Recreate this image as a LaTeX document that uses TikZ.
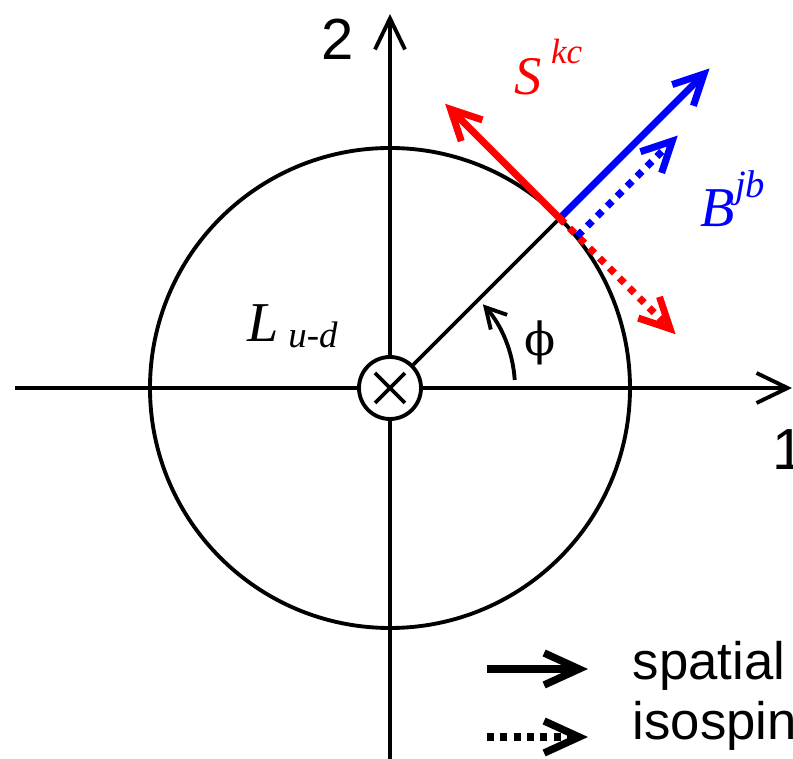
\documentclass[tikz,border=0pt]{standalone}
\usepackage{fontspec}
\setmainfont{Liberation Sans}
\newfontfamily\timesfont{Liberation Serif}
\newfontfamily\greekfont{DejaVu Serif}
\usetikzlibrary{arrows.meta,calc}
\definecolor{vecred}{RGB}{255,0,0}
\definecolor{vecblue}{RGB}{0,0,255}
\newcommand{\fsz}[1]{\fontsize{#1}{#1}\selectfont}

\begin{document}
\begin{tikzpicture}[
    axis/.style={line width=1.1pt, -{Straight Barb[length=3.1mm,width=3mm]}},
    ring/.style={line width=1.1pt},
    spatialvec/.style={line width=2pt, -{Straight Barb[length=3mm,width=3mm]}},
    isovec/.style={spatialvec, dash pattern=on 2pt off 2pt},
    legendvec/.style={line width=2.1pt, -{Straight Barb[length=3.5mm,width=3.2mm]}},
    legendiso/.style={legendvec, dash pattern=on 2pt off 1.8pt},
    axislabel/.style={inner sep=0pt, font=\fsz{16.5}},
    legendlabel/.style={inner sep=0pt, anchor=base west, font=\fsz{15}}
]
    \useasboundingbox (-3.90,-3.71) rectangle (4.03,3.88);

    % Axes
    \coordinate (xstart) at (-3.75,0);
    \coordinate (xend) at (4.02,0);
    \coordinate (ystart) at (0,-3.71);
    \coordinate (yend) at (0,3.74);
    \draw[axis] (xstart) -- (xend);
    \draw[axis] (ystart) -- (yend);
    \node[axislabel, anchor=base west] (one) at (3.82,-0.82) {1};
    \node[axislabel] (two) at (-0.52,3.49) {2};

    % Loop
    \draw[ring] (0,0) circle (2.4);
    \node[draw, circle, ring, fill=white, minimum size=6.2mm, inner sep=0pt] (core) at (0,0) {};
    \draw[ring] ($(core)+(-0.15,-0.15)$) -- ($(core)+(0.15,0.15)$);
    \draw[ring] ($(core)+(-0.15,0.15)$) -- ($(core)+(0.15,-0.15)$);
    \node[inner sep=0pt, anchor=base west] (lud) at (-1.43,0.46)
        {\timesfont\itshape\fsz{16}L\,\raisebox{-1.7pt}{\fsz{10.5}u-d}};

    % Radius and angle
    \coordinate (P) at (45:2.4);
    \draw[ring] (core) -- (P);
    \draw[ring, -{Straight Barb[length=2mm,width=2.2mm]}] (3.7:1.25) arc (3.7:42:1.25);
    \node[inner sep=0pt] (phi) at (1.50,0.45) {\greekfont\fsz{13}ϕ};

    % Vectors at the rim
    \coordinate (Q) at ($(P)+(-45:0.25)$);
    \coordinate (Sfoot) at ($(P)+(-45:0.06)$);
    \coordinate (Sup) at ($(P)+(135:1.62)$);
    \coordinate (Sdown) at ($(P)+(-45:1.64)$);
    \coordinate (Bsp) at ($(P)+(45:2.12)$);
    \coordinate (Biso) at ($(Q)+(45:1.42)$);
    \draw[isovec, vecred] (P) -- (Sdown);
    \draw[isovec, vecblue] (Q) -- (Biso);
    \draw[spatialvec, vecblue] (P) -- (Bsp);
    \draw[spatialvec, vecred] (Sfoot) -- (Sup);
    \node[inner sep=0pt, anchor=base west, text=vecred] (S) at (1.24,2.93)
        {\timesfont\itshape\fsz{15.5}S\,\raisebox{9pt}{\fsz{10}kc}};
    \node[inner sep=0pt, anchor=base west, text=vecblue] (B) at (3.10,1.61)
        {\timesfont\itshape\fsz{16}B\raisebox{8.5pt}{\fsz{11}jb}};

    % Legend
    \coordinate (ls) at (0.97,-2.81);
    \coordinate (le) at (1.98,-2.81);
    \coordinate (is) at (0.97,-3.49);
    \coordinate (ie) at (1.98,-3.49);
    \draw[legendvec] (ls) -- (le);
    \draw[legendiso] (is) -- (ie);
    \node[legendlabel] (spatial) at (2.42,-2.92) {spatial};
    \node[legendlabel] (isospin) at (2.42,-3.52) {isospin};
\end{tikzpicture}
\end{document}
